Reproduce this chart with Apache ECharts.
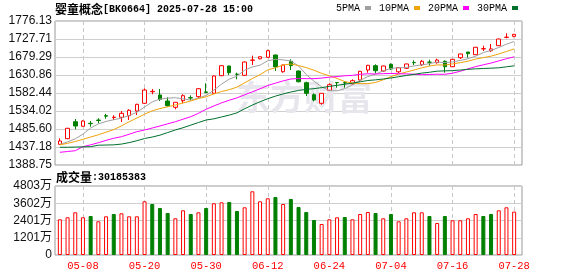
<!DOCTYPE html>
<html><head><meta charset="utf-8">
<script src="https://cdn.jsdelivr.net/npm/echarts@6/dist/echarts.min.js"></script>
<style>html,body{margin:0;padding:0;background:#fff}#c{width:578px;height:276px}</style>
</head><body><div id="c"></div>
<script>
const dates = ['04-30','05-06','05-07','05-08','05-09','05-12','05-13','05-14','05-15','05-16','05-19','05-20','05-21','05-22','05-23','05-26','05-27','05-28','05-29','05-30','06-03','06-04','06-05','06-06','06-09','06-10','06-11','06-12','06-13','06-16','06-17','06-18','06-19','06-20','06-23','06-24','06-25','06-26','06-27','06-30','07-01','07-02','07-03','07-04','07-07','07-08','07-09','07-10','07-11','07-14','07-15','07-16','07-17','07-18','07-21','07-22','07-23','07-24','07-25','07-28'];
const opens = [1444.4,1459.5,1505.2,1492.9,1500.9,1509.7,1521.5,1516.4,1517.1,1521.4,
 1534.0,1554.7,1585.9,1577.1,1560.9,1544.0,1561.7,1569.8,1572.5,1585.3,
 1581.6,1629.0,1655.1,1633.0,1630.0,1670.5,1674.6,1678.5,1684.7,1639.7,
 1667.7,1641.6,1610.1,1577.9,1554.7,1589.7,1610.6,1610.3,1607.4,1617.4,
 1644.3,1655.9,1641.6,1659.6,1639.5,1648.9,1664.5,1658.6,1665.4,1664.0,
 1667.7,1653.2,1677.4,1692.7,1685.5,1701.2,1696.2,1709.7,1732.0,1735.0];
const closes = [1453.3,1487.5,1493.7,1507.1,1500.0,1508.5,1520.2,1517.4,1527.8,1535.9,
 1552.0,1590.5,1586.9,1565.5,1548.3,1557.4,1575.2,1569.0,1594.0,1584.0,
 1628.2,1655.9,1637.1,1632.6,1665.8,1671.2,1680.0,1696.2,1652.7,1657.8,
 1655.9,1612.8,1581.6,1563.6,1581.6,1604.8,1610.2,1609.8,1615.5,1640.8,
 1657.0,1642.4,1655.1,1647.0,1650.5,1660.5,1664.0,1667.7,1665.0,1671.2,
 1653.2,1673.1,1687.4,1688.2,1705.4,1701.8,1701.0,1727.7,1732.5,1740.3];
const lows = [1443.4,1458.5,1484.8,1491.8,1491.8,1500.9,1513.3,1509.8,1504.4,1509.8,
 1523.2,1552.9,1579.0,1560.9,1545.6,1538.6,1554.7,1563.5,1568.2,1581.6,
 1579.7,1628.0,1630.9,1619.3,1628.0,1657.8,1673.0,1677.0,1641.6,1637.0,
 1644.3,1611.0,1574.4,1560.0,1551.0,1587.8,1596.7,1596.7,1604.8,1612.8,
 1637.0,1635.4,1640.0,1644.3,1636.0,1647.5,1657.8,1655.1,1655.9,1661.3,
 1637.1,1652.0,1673.9,1677.4,1684.5,1695.4,1692.7,1709.0,1729.6,1732.3];
const highs = [1460.6,1488.5,1512.5,1509.0,1507.1,1514.4,1526.0,1522.5,1534.0,1538.6,
 1553.5,1595.0,1593.2,1593.2,1570.9,1558.0,1579.0,1576.0,1595.9,1608.5,
 1630.0,1656.5,1656.0,1637.1,1667.0,1682.8,1681.0,1699.0,1685.5,1658.5,
 1673.1,1643.0,1612.8,1581.6,1582.0,1608.5,1612.0,1614.7,1619.3,1642.0,
 1658.0,1659.6,1656.0,1662.3,1651.5,1661.5,1670.4,1671.2,1672.0,1674.7,
 1670.4,1674.0,1688.0,1692.7,1706.0,1709.7,1714.3,1728.5,1743.0,1740.5];
const ma5 = [1444.0,1451.0,1459.0,1472.0,1488.3,1499.4,1505.9,1510.6,1514.8,1522.0,
 1530.7,1544.7,1558.6,1566.2,1568.6,1569.7,1566.7,1563.1,1568.8,1575.9,
 1590.1,1606.2,1619.8,1627.6,1643.9,1652.5,1657.3,1669.2,1673.2,1671.6,
 1668.5,1655.1,1632.2,1614.3,1599.1,1588.9,1588.3,1594.0,1604.4,1616.3,
 1626.7,1633.1,1642.2,1648.5,1650.4,1651.1,1655.4,1657.9,1661.5,1665.7,
 1664.2,1666.0,1670.0,1674.6,1681.5,1691.2,1696.9,1705.0,1713.8,1721.0];
const ma10 = [1443.0,1447.0,1452.0,1458.0,1464.0,1470.0,1477.0,1484.0,1494.0,1505.1,
 1515.0,1525.3,1534.6,1540.5,1545.3,1550.2,1555.7,1560.9,1567.5,1572.3,
 1579.9,1586.4,1591.5,1598.2,1609.9,1621.3,1631.8,1644.5,1650.4,1657.8,
 1660.5,1656.2,1650.7,1643.8,1635.3,1628.7,1621.8,1613.1,1609.4,1607.7,
 1607.8,1610.7,1618.1,1626.4,1633.3,1638.9,1644.2,1650.1,1655.0,1658.0,
 1657.7,1660.7,1664.0,1668.1,1673.6,1677.7,1681.5,1687.5,1694.2,1701.1];
const ma20 = [1422.9,1425.0,1427.2,1438.0,1443.0,1448.7,1455.0,1460.6,1464.9,1471.5,
 1478.3,1482.9,1488.3,1493.7,1499.5,1505.2,1512.0,1518.7,1527.8,1538.7,
 1547.5,1555.9,1563.0,1569.3,1577.6,1585.7,1593.7,1602.7,1608.9,1615.0,
 1620.2,1621.3,1621.1,1621.0,1622.6,1625.0,1626.7,1628.8,1629.9,1632.7,
 1634.2,1633.5,1634.4,1635.1,1634.3,1633.8,1633.0,1631.6,1632.2,1632.9,
 1632.7,1635.7,1641.0,1647.3,1653.4,1658.3,1663.0,1668.8,1674.7,1679.6];
const ma30 = [1436.4,1436.5,1437.0,1437.5,1438.0,1442.0,1442.5,1443.0,1445.0,1449.0,
 1454.0,1460.0,1464.0,1469.0,1476.0,1483.0,1489.0,1496.0,1503.0,1509.8,
 1513.0,1518.0,1523.0,1529.0,1540.0,1550.0,1559.0,1567.0,1574.0,1580.0,
 1585.1,1589.3,1592.3,1594.1,1596.9,1600.1,1603.0,1606.1,1609.1,1612.6,
 1616.1,1617.8,1620.1,1622.8,1626.2,1629.6,1632.6,1635.9,1638.2,1641.2,
 1642.0,1642.6,1644.2,1646.1,1647.4,1648.4,1649.2,1650.2,1652.9,1655.6];
// volume in 万 (10k shares)
const volumes = [2485,2624,2972,2624,2715,2346,2694,2854,2903,2694,
 2694,3738,3550,3272,2924,2555,3111,2854,2972,3272,
 3599,3668,3689,3063,3320,4434,3738,3947,4037,3550,
 3898,3341,2993,2436,2158,2485,2624,2645,2485,2854,
 2993,2924,2555,2854,2346,2555,2972,2972,2715,2227,
 2715,2415,2415,2555,2854,2715,2854,3111,3320,3018.5383];
const priceTicks = ['1388.75','1437.18','1485.60','1534.02','1582.44','1630.86','1679.29','1727.71','1776.13'];
const volumeTicks = ['0','1201万','2401万','3602万','4803万'];
const lastVolume = '30185383';
const titleName = '婴童概念';
const titleRest = '[BK0664] 2025-07-28 15:00';
const maNames = ['5PMA','10PMA','20PMA','30PMA'];

const RED = '#ff0000', GREEN = '#008000';
const MA_COLORS = ['#a0a0a0', '#f0a30a', '#ff00ff', '#00702c'];
const MONO = '"Liberation Mono","DejaVu Sans Mono",monospace';
const CJK = '"Noto Sans CJK SC"';
const LAB = '"Liberation Sans","Noto Sans CJK SC",sans-serif';

const candleData = dates.map((d, i) => [opens[i], closes[i], lows[i], highs[i]]);
const volData = volumes.map((v, i) => {
  const up = i === 0 || closes[i] >= closes[i - 1];
  return { value: v, itemStyle: up ? { color: '#fff', borderColor: RED, borderWidth: 1 } : { color: GREEN, borderColor: GREEN, borderWidth: 1 } };
});
const showIdx = (i) => ((i - 3) % 8 === 0);
const vSplit = { show: true, alignWithLabel: true, interval: (i) => showIdx(i), lineStyle: { color: '#c8c8c8', type: [4, 3], width: 1 } };

const chart = echarts.init(document.getElementById('c'), null, { renderer: 'canvas' });
const maSeries = [ma5, ma10, ma20, ma30].map((arr, k) => ({
  name: maNames[k], type: 'line', data: arr, xAxisIndex: 1, yAxisIndex: 1,
  symbol: 'none', z: 4, lineStyle: { width: 1, color: MA_COLORS[k] }, itemStyle: { color: MA_COLORS[k] }
}));

chart.setOption({
  animation: false,
  backgroundColor: '#fff',
  title: [
    { text: '{a|' + titleName + '}{b|' + titleRest + '}', left: 55, top: 3, padding: 0,
      textStyle: { rich: { a: { fontFamily: CJK, fontSize: 12, color: '#000' }, b: { fontFamily: MONO, fontSize: 10, color: '#000' } } } },
    { text: '{a|成交量}{b|:' + lastVolume + '}', left: 56, top: 171, padding: 0,
      textStyle: { rich: { a: { fontFamily: CJK, fontSize: 12, color: '#000' }, b: { fontFamily: MONO, fontSize: 10, color: '#000' } } } }
  ],
  legend: {
    data: maNames, left: 336, top: 3, padding: 0, align: 'right', icon: 'rect',
    itemWidth: 6, itemHeight: 4, itemGap: 8, selectedMode: false,
    textStyle: { fontFamily: MONO, fontSize: 10, color: '#000' }
  },
  graphic: [
    { type: 'text', left: 236, top: 80, z: 1, silent: true,
      style: { text: '东方财富', font: 'bold 34px "Noto Sans CJK SC"', fill: '#e6e6ec' } }
  ],
  grid: [
    { left: 55, right: 56, top: 21, height: 144, show: true, borderColor: '#999', borderWidth: 1, backgroundColor: 'transparent' },
    { left: 56, right: 60, top: 21, height: 144 },
    { left: 55, right: 56, top: 186, height: 69, show: true, borderColor: '#999', borderWidth: 1, backgroundColor: 'transparent' },
    { left: 56, right: 60, top: 186, height: 69 }
  ],
  xAxis: [
    { gridIndex: 0, type: 'value', min: 0, max: 1, show: false },
    { gridIndex: 1, type: 'category', data: dates, boundaryGap: true, axisLine: { show: false }, axisTick: { show: false }, axisLabel: { show: false }, splitLine: vSplit },
    { gridIndex: 2, type: 'value', min: 0, max: 1, show: false },
    { gridIndex: 3, type: 'category', data: dates, boundaryGap: true, axisLine: { show: false }, axisTick: { show: false },
      axisLabel: { show: true, interval: (i) => showIdx(i), color: RED, fontFamily: MONO, fontSize: 10.5, margin: 6 }, splitLine: vSplit }
  ],
  yAxis: [
    { gridIndex: 0, type: 'value', min: 0, max: 8, interval: 1, axisLine: { show: false }, axisTick: { show: false },
      axisLabel: { formatter: (v) => priceTicks[Math.round(v)], color: '#111', fontFamily: LAB, fontSize: 12, margin: 3 },
      splitLine: { show: true, lineStyle: { color: '#cfcfcf', width: 1 } } },
    { gridIndex: 1, type: 'value', min: 1388.75, max: 1776.13, show: false, splitLine: { show: false } },
    { gridIndex: 2, type: 'value', min: 0, max: 4, interval: 1, axisLine: { show: false }, axisTick: { show: false },
      axisLabel: { formatter: (v) => volumeTicks[Math.round(v)], color: '#111', fontFamily: LAB, fontSize: 12, margin: 3 },
      splitLine: { show: true, lineStyle: { color: '#cfcfcf', width: 1 } } },
    { gridIndex: 3, type: 'value', min: 0, max: 4803, show: false, splitLine: { show: false } }
  ],
  series: [
    { name: 'K', type: 'candlestick', data: candleData, xAxisIndex: 1, yAxisIndex: 1, barWidth: 4, z: 3,
      itemStyle: { color: '#fff', color0: GREEN, borderColor: RED, borderColor0: GREEN, borderWidth: 1 } },
    ...maSeries,
    { name: 'VOL', type: 'bar', data: volData, xAxisIndex: 3, yAxisIndex: 3, barWidth: 4 }
  ]
});
</script></body></html>
